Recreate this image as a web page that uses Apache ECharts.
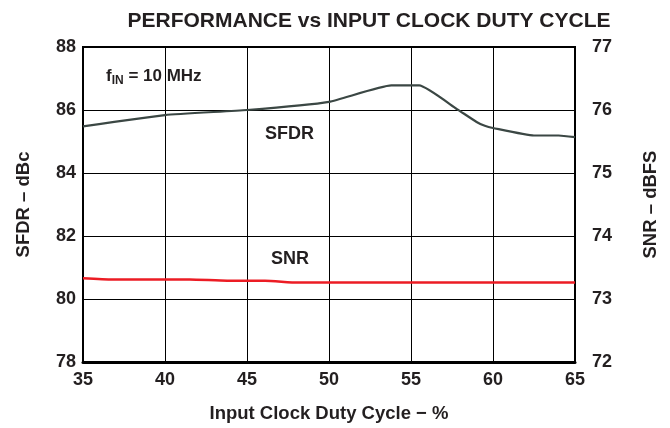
<!DOCTYPE html>
<html>
<head>
<meta charset="utf-8">
<script src="https://cdn.jsdelivr.net/npm/echarts@6/dist/echarts.min.js"></script>
<style>
  html, body { margin: 0; padding: 0; background: #fff; }
  #main { width: 670px; height: 428px; }
</style>
</head>
<body>
<div id="main"></div>
<script>
// duty cycle (%) on x, SFDR in dBc (left), SNR in dBFS (right)
var sfdrDuty = [35, 40, 45, 50, 53.8, 55.5, 57.8, 59, 59.5, 60, 62.5, 64, 65]
var sfdrVals = [85.48, 85.84, 86.0, 86.26, 86.78, 86.78, 86.03, 85.62, 85.5, 85.43, 85.19, 85.19, 85.14]
var snrDuty = [35, 36.8, 41.5, 43.8, 46.1, 48.1, 65]
var snrVals = [73.33, 73.31, 73.31, 73.29, 73.29, 73.26, 73.26]

var xTicks = [35, 40, 45, 50, 55, 60, 65]
var sfdrTicks = [78, 80, 82, 84, 86, 88]
var snrTicks = [72, 73, 74, 75, 76, 77]

var font = 'Liberation Sans, Arial, sans-serif'
var ink = '#231f20'

function pairs(xs, ys) {
  return xs.map(function (x, i) { return [x, ys[i]] })
}

var chartDom = document.getElementById('main')
var myChart = echarts.init(chartDom)

var option = {
  animation: false,
  backgroundColor: '#fff',
  title: {
    text: 'PERFORMANCE vs INPUT CLOCK DUTY CYCLE',
    left: 364,
    top: 6,
    textAlign: 'center',
    textStyle: { fontFamily: font, fontSize: 21, fontWeight: 'bold', color: ink }
  },
  grid: {
    left: 83,
    right: 95,
    top: 47,
    bottom: 66,
    show: true,
    borderColor: '#000',
    borderWidth: 2
  },
  xAxis: {
    type: 'value',
    min: xTicks[0],
    max: xTicks[xTicks.length - 1],
    interval: 5,
    name: 'Input Clock Duty Cycle \u2212 %',
    nameLocation: 'middle',
    nameGap: 42,
    nameTextStyle: { fontFamily: font, fontSize: 18.5, fontWeight: 'bold', color: ink },
    axisLine: { show: true, lineStyle: { color: '#000', width: 3 } },
    axisTick: { show: false },
    axisLabel: { margin: 9, fontFamily: font, fontSize: 18, fontWeight: 'bold', color: ink },
    splitLine: { show: true, lineStyle: { color: '#000', width: 1 } }
  },
  yAxis: [
    {
      type: 'value',
      min: sfdrTicks[0],
      max: sfdrTicks[sfdrTicks.length - 1],
      interval: 2,
      name: 'SFDR \u2013 dBc',
      nameLocation: 'middle',
      nameGap: 50,
      nameTextStyle: { fontFamily: font, fontSize: 18.5, fontWeight: 'bold', color: ink },
      axisLine: { show: true, lineStyle: { color: '#000', width: 2 } },
      axisTick: { show: false },
      axisLabel: { margin: 7, fontFamily: font, fontSize: 18, fontWeight: 'bold', color: ink },
      splitLine: { show: true, lineStyle: { color: '#000', width: 1 } }
    },
    {
      type: 'value',
      min: snrTicks[0],
      max: snrTicks[snrTicks.length - 1],
      interval: 1,
      position: 'right',
      name: 'SNR \u2013 dBFS',
      nameLocation: 'middle',
      nameGap: 66,
      nameRotate: 90,
      nameTextStyle: { fontFamily: font, fontSize: 18.5, fontWeight: 'bold', color: ink },
      axisLine: { show: true, lineStyle: { color: '#000', width: 2 } },
      axisTick: { show: false },
      axisLabel: { margin: 17, fontFamily: font, fontSize: 18, fontWeight: 'bold', color: ink },
      splitLine: { show: false }
    }
  ],
  series: [
    {
      name: 'SFDR',
      type: 'line',
      yAxisIndex: 0,
      data: pairs(sfdrDuty, sfdrVals),
      showSymbol: false,
      smooth: 0.15,
      lineStyle: { color: '#3b4744', width: 2.2 }
    },
    {
      name: 'SNR',
      type: 'line',
      yAxisIndex: 1,
      data: pairs(snrDuty, snrVals),
      showSymbol: false,
      smooth: 0.2,
      lineStyle: { color: '#ec1c24', width: 2.5 }
    }
  ],
  graphic: [
    {
      type: 'text',
      left: 106,
      top: 68,
      style: {
        text: '{a|f}{b|IN}{a| = 10 MHz}',
        rich: {
          a: { fontFamily: font, fontSize: 17, fontWeight: 'bold', fill: ink },
          b: { fontFamily: font, fontSize: 12, fontWeight: 'bold', fill: ink, padding: [9, 0, 0, 0] }
        }
      }
    },
    {
      type: 'text',
      left: 265,
      top: 125,
      style: { text: 'SFDR', fontFamily: font, fontSize: 18, fontWeight: 'bold', fill: ink }
    },
    {
      type: 'text',
      left: 271,
      top: 250,
      style: { text: 'SNR', fontFamily: font, fontSize: 18, fontWeight: 'bold', fill: ink }
    }
  ]
}

myChart.setOption(option)
</script>
</body>
</html>
